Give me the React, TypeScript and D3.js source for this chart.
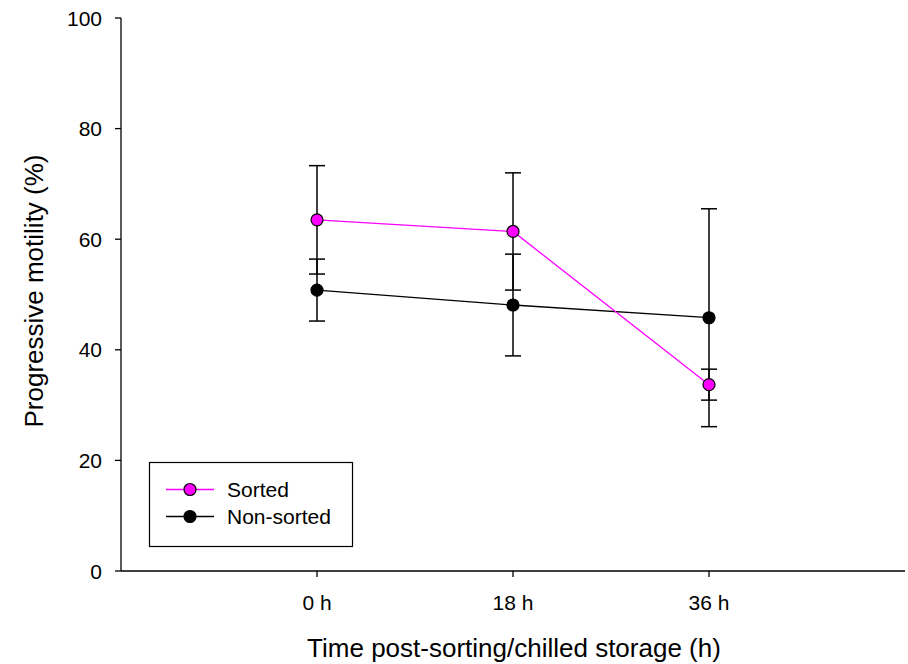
import React, { useEffect, useRef } from "react";
import * as d3 from "d3";

const times = ["0 h", "18 h", "36 h"];
const sortedMean = [63.5, 61.4, 33.7];
const sortedErr = [9.8, 10.6, 2.8];
const nonSortedMean = [50.8, 48.1, 45.8];
const nonSortedErr = [5.6, 9.2, 19.7];
const yTicks = [0, 20, 40, 60, 80, 100];

export default function App() {
  const ref = useRef<SVGSVGElement>(null);

  useEffect(() => {
    const svg = d3.select(ref.current);
    svg.selectAll("*").remove();
    const font = "Liberation Sans, Arial, sans-serif";

    // x: categories at positions 0..2, axis padded one step left and right
    const x = d3.scaleLinear().domain([-1, 3]).range([121, 905]);
    const y = d3.scaleLinear().domain([0, 100]).range([571, 18]);

    // y axis
    const yAxis = svg.append("g").attr("transform", "translate(121,0)");
    yAxis
      .append("line")
      .attr("y1", y(0))
      .attr("y2", y(100))
      .attr("stroke", "#000")
      .attr("stroke-width", 1.3);
    yAxis
      .selectAll("line.tick")
      .data(yTicks)
      .enter()
      .append("line")
      .attr("class", "tick")
      .attr("x1", -6)
      .attr("x2", 0)
      .attr("y1", (d) => y(d))
      .attr("y2", (d) => y(d))
      .attr("stroke", "#000")
      .attr("stroke-width", 1.3);
    yAxis
      .selectAll("text")
      .data(yTicks)
      .enter()
      .append("text")
      .attr("x", -19)
      .attr("y", (d) => y(d) + 7.5)
      .attr("text-anchor", "end")
      .attr("font-family", font)
      .attr("font-size", 21)
      .text((d) => d);

    // x axis
    const xAxis = svg.append("g").attr("transform", `translate(0,${y(0)})`);
    xAxis
      .append("line")
      .attr("x1", 121)
      .attr("x2", 905)
      .attr("stroke", "#000")
      .attr("stroke-width", 1.3);
    xAxis
      .selectAll("line.tick")
      .data(times)
      .enter()
      .append("line")
      .attr("class", "tick")
      .attr("x1", (d, i) => x(i))
      .attr("x2", (d, i) => x(i))
      .attr("y1", 0)
      .attr("y2", 6)
      .attr("stroke", "#000")
      .attr("stroke-width", 1.3);
    xAxis
      .selectAll("text")
      .data(times)
      .enter()
      .append("text")
      .attr("x", (d, i) => x(i))
      .attr("y", 39)
      .attr("text-anchor", "middle")
      .attr("font-family", font)
      .attr("font-size", 21)
      .text((d) => d);

    // titles
    svg
      .append("text")
      .attr("x", 514)
      .attr("y", 657)
      .attr("text-anchor", "middle")
      .attr("font-family", font)
      .attr("font-size", 26)
      .text("Time post-sorting/chilled storage (h)");
    svg
      .append("text")
      .attr("transform", `translate(43,291) rotate(-90)`)
      .attr("text-anchor", "middle")
      .attr("font-family", font)
      .attr("font-size", 26)
      .text("Progressive motility (%)");

    const line = d3
      .line<number>()
      .x((d, i) => x(i))
      .y((d) => y(d));

    const drawSeries = (means: number[], errs: number[], color: string) => {
      const g = svg.append("g");
      // error bars
      means.forEach((m, i) => {
        const cx = x(i);
        g.append("line")
          .attr("x1", cx)
          .attr("x2", cx)
          .attr("y1", y(m + errs[i]))
          .attr("y2", y(m - errs[i]))
          .attr("stroke", "#000")
          .attr("stroke-width", 1.5);
        [m + errs[i], m - errs[i]].forEach((v) => {
          g.append("line")
            .attr("x1", cx - 8)
            .attr("x2", cx + 8)
            .attr("y1", y(v))
            .attr("y2", y(v))
            .attr("stroke", "#000")
            .attr("stroke-width", 1.5);
        });
      });
      g.append("path")
        .datum(means)
        .attr("d", line)
        .attr("fill", "none")
        .attr("stroke", color)
        .attr("stroke-width", 1.3);
      g.selectAll("circle")
        .data(means)
        .enter()
        .append("circle")
        .attr("cx", (d, i) => x(i))
        .attr("cy", (d) => y(d))
        .attr("r", 6)
        .attr("fill", color)
        .attr("stroke", "#000")
        .attr("stroke-width", 1.2);
    };

    drawSeries(nonSortedMean, nonSortedErr, "#000");
    drawSeries(sortedMean, sortedErr, "#ff00ff");

    // legend
    const lg = svg.append("g");
    lg.append("rect")
      .attr("x", 149.5)
      .attr("y", 462.5)
      .attr("width", 203)
      .attr("height", 84)
      .attr("fill", "#fff")
      .attr("stroke", "#000")
      .attr("stroke-width", 1.2);
    const items = [
      { name: "Sorted", color: "#ff00ff", ly: 489.5 },
      { name: "Non-sorted", color: "#000", ly: 516.5 },
    ];
    items.forEach((it) => {
      lg.append("line")
        .attr("x1", 166)
        .attr("x2", 214)
        .attr("y1", it.ly)
        .attr("y2", it.ly)
        .attr("stroke", it.color)
        .attr("stroke-width", 1.3);
      lg.append("circle")
        .attr("cx", 190)
        .attr("cy", it.ly)
        .attr("r", 6)
        .attr("fill", it.color)
        .attr("stroke", "#000")
        .attr("stroke-width", 1.2);
      lg.append("text")
        .attr("x", 227)
        .attr("y", it.ly + 7.5)
        .attr("font-family", font)
        .attr("font-size", 21)
        .text(it.name);
    });
  }, []);

  return (
    <div style={{ position: "absolute", left: 0, top: 0 }}>
      <svg ref={ref} width={908} height={664} style={{ display: "block", background: "#fff" }} />
    </div>
  );
}
